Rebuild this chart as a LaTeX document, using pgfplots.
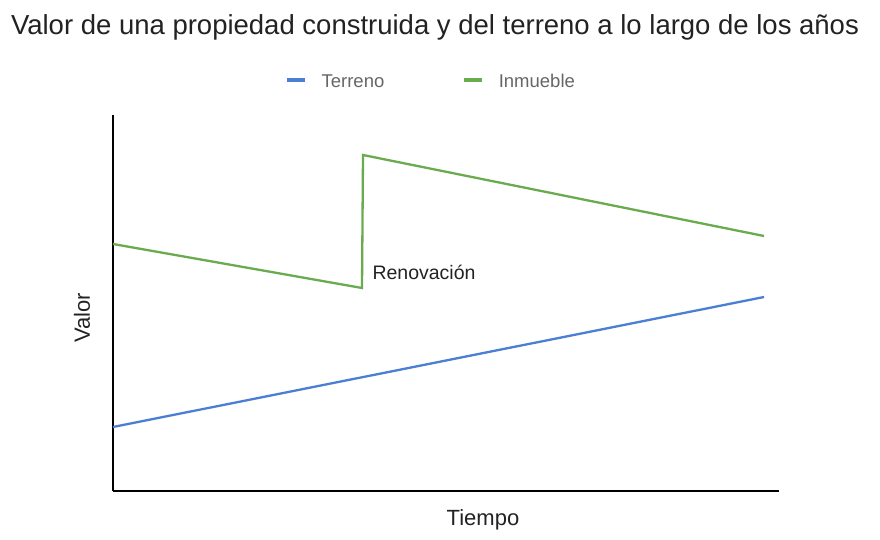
\documentclass[border=0pt]{standalone}
\usepackage{pgfplots}
\pgfplotsset{compat=1.18}
\usepackage{fontspec}
\setmainfont{Liberation Sans}
\definecolor{terreno}{HTML}{4A7FD4}
\definecolor{inmueble}{HTML}{6AAB4F}
\definecolor{txt}{HTML}{222222}
\definecolor{legtxt}{HTML}{666666}

\begin{document}
\begin{tikzpicture}
\useasboundingbox (0,0) rectangle (880bp,540bp);
\begin{axis}[
    at={(113bp,49bp)}, anchor=south west,
    scale only axis,
    width=666bp, height=376bp,
    xmin=0, xmax=666, ymin=0, ymax=376,
    axis x line*=bottom, axis y line*=left,
    axis line style={-, black, line width=1.6bp},
    xtick=\empty, ytick=\empty,
    clip=false,
    legend style={at={(rel axis cs:0.5,1)}, anchor=south, yshift=21bp, xshift=-15bp,
        draw=none, fill=none, legend columns=2,
        inner sep=0pt,
        nodes={text height=13bp, text depth=4bp},
        font=\fontsize{18.5bp}{21bp}\selectfont\color{legtxt},
        /tikz/every odd column/.append style={column sep=13bp},
        /tikz/every even column/.append style={column sep=76bp}},
    legend image code/.code={\draw[#1, line width=3.5bp] (0bp,3.5bp) -- (18bp,3.5bp);},
]
\addplot[terreno, line width=2.3bp] coordinates {(0,64) (651,194)};
\addlegendentry{Terreno}
\addplot[inmueble, line width=2.3bp] coordinates {(0,247) (249,203) (250,336) (651,255)};
\addlegendentry{Inmueble}
\node[anchor=west, text=txt, font=\fontsize{19.5bp}{22bp}\selectfont] at (axis cs:256,219) {Renovación};
\end{axis}
\node[text=txt, font=\fontsize{27.5bp}{32bp}\selectfont] at (435bp,513bp) {Valor de una propiedad construida y del terreno a lo largo de los años};
\node[text=txt, font=\fontsize{22bp}{26bp}\selectfont] at (483bp,20bp) {Tiempo};
\node[text=txt, rotate=90, font=\fontsize{22bp}{26bp}\selectfont] at (82bp,222bp) {Valor};
\end{tikzpicture}
\end{document}
